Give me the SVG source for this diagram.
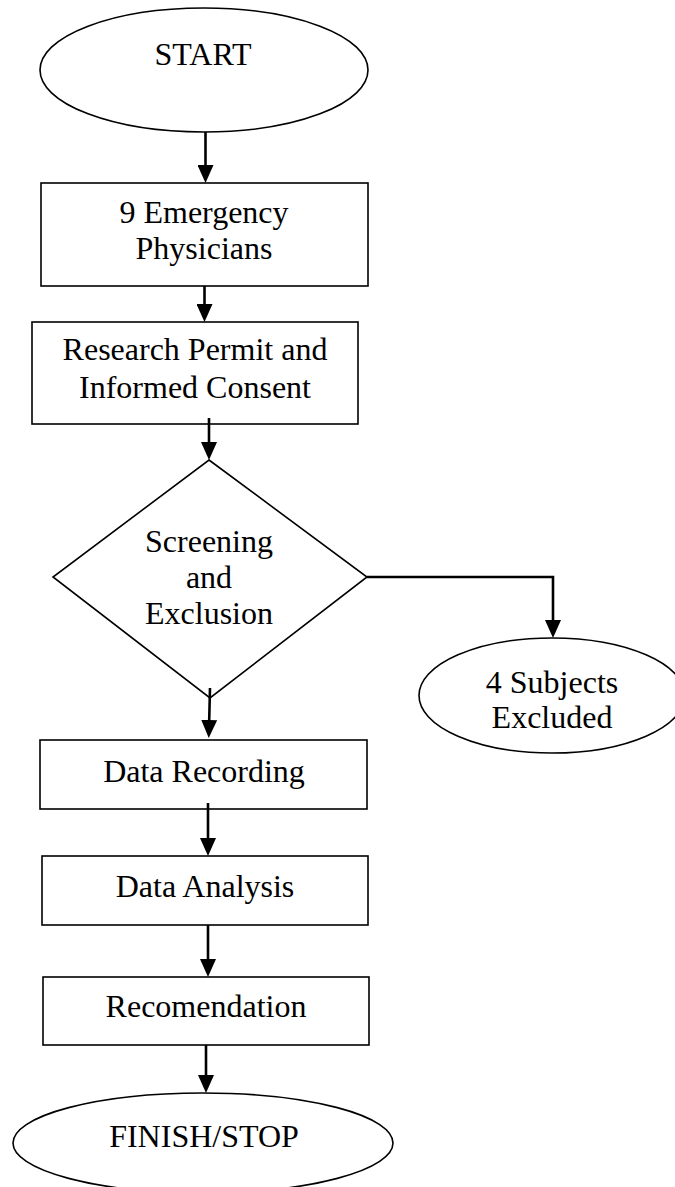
<svg xmlns="http://www.w3.org/2000/svg" width="675" height="1187" viewBox="0 0 675 1187">
<style>
.shape{fill:#fff;stroke:#000;stroke-width:1.6}
.lbl{font-family:"Liberation Serif","Times New Roman",serif;font-size:32px;fill:#000;text-anchor:middle}
.conn{fill:none;stroke:#000;stroke-width:2.6}
</style>
<defs>
<marker id="arr" viewBox="0 0 18 16" refX="8" refY="8" markerWidth="18" markerHeight="16" markerUnits="userSpaceOnUse" orient="auto">
<path d="M0,0 L18,8 L0,16 z" fill="#000"/>
</marker>
</defs>
<rect width="675" height="1187" fill="#fff"/>
<g id="start">
<ellipse class="shape" cx="204" cy="70" rx="164" ry="62"/>
<text class="lbl" x="203" y="65">START</text>
</g>
<g id="physicians">
<rect class="shape" x="41" y="183" width="327" height="103"/>
<text class="lbl" x="204" y="223">9 Emergency</text>
<text class="lbl" x="204" y="259">Physicians</text>
</g>
<g id="permit">
<rect class="shape" x="32" y="322" width="326" height="102"/>
<text class="lbl" x="195" y="360">Research Permit and</text>
<text class="lbl" x="195" y="398">Informed Consent</text>
</g>
<g id="screening">
<polygon class="shape" points="209,460 367,577 210,698 53,577"/>
<text class="lbl" x="209" y="552">Screening</text>
<text class="lbl" x="209" y="588">and</text>
<text class="lbl" x="209" y="624">Exclusion</text>
</g>
<g id="excluded">
<ellipse class="shape" cx="552" cy="695.5" rx="133" ry="57.5"/>
<text class="lbl" x="552" y="693">4 Subjects</text>
<text class="lbl" x="552" y="728">Excluded</text>
</g>
<g id="recording">
<rect class="shape" x="40" y="740" width="327" height="69"/>
<text class="lbl" x="204" y="782">Data Recording</text>
</g>
<g id="analysis">
<rect class="shape" x="42" y="856" width="326" height="69"/>
<text class="lbl" x="205" y="897">Data Analysis</text>
</g>
<g id="recomendation">
<rect class="shape" x="43" y="977" width="326" height="68"/>
<text class="lbl" x="206" y="1017">Recomendation</text>
</g>
<g id="finish">
<ellipse class="shape" cx="203" cy="1143" rx="190" ry="50"/>
<text class="lbl" x="204" y="1147">FINISH/STOP</text>
</g>
<g id="connectors">
<line class="conn" x1="205.5" y1="132" x2="205.5" y2="173" marker-end="url(#arr)"/>
<line class="conn" x1="204.5" y1="286" x2="204.5" y2="312" marker-end="url(#arr)"/>
<line class="conn" x1="209" y1="418" x2="209" y2="450" marker-end="url(#arr)"/>
<line class="conn" x1="210" y1="688" x2="209" y2="728" marker-end="url(#arr)"/>
<polyline class="conn" points="367,577 553,577 553,628" stroke-width="2" marker-end="url(#arr)"/>
<line class="conn" x1="208" y1="803" x2="208" y2="846" marker-end="url(#arr)"/>
<line class="conn" x1="208" y1="925" x2="208" y2="967" marker-end="url(#arr)"/>
<line class="conn" x1="206" y1="1045" x2="206" y2="1083" marker-end="url(#arr)"/>
</g>
</svg>
